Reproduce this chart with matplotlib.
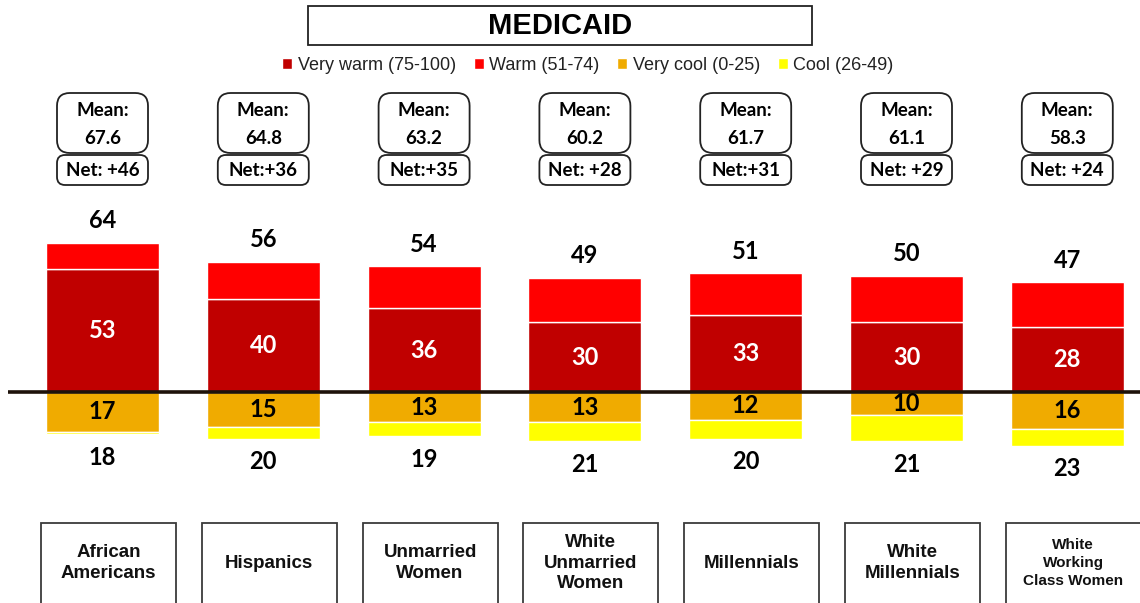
import numpy as np
import matplotlib
matplotlib.use("Agg")
import matplotlib.pyplot as plt
from matplotlib.patches import FancyBboxPatch, Rectangle

categories = ["African\nAmericans", "Hispanics", "Unmarried\nWomen", "White\nUnmarried\nWomen",
              "Millennials", "White\nMillennials", "White\nWorking\nClass Women"]
very_warm = [53, 40, 36, 30, 33, 30, 28]
warm = [11, 16, 18, 19, 18, 20, 19]
total_warm = [64, 56, 54, 49, 51, 50, 47]
very_cool = [17, 15, 13, 13, 12, 10, 16]
cool = [1, 5, 6, 8, 8, 11, 7]
total_cool = [18, 20, 19, 21, 20, 21, 23]
means = ["67.6", "64.8", "63.2", "60.2", "61.7", "61.1", "58.3"]
nets = ["Net: +46", "Net:+36", "Net:+35", "Net: +28", "Net:+31", "Net: +29", "Net: +24"]

C_VWARM = "#C00000"
C_WARM = "#FF0000"
C_VCOOL = "#F0AB00"
C_COOL = "#FFFF00"

NUMFONT = ["Lato", "DejaVu Sans"]
LBLFONT = ["Liberation Sans", "DejaVu Sans"]

W, H = 1140, 603
fig = plt.figure(figsize=(W / 100, H / 100), dpi=100)
ax = fig.add_axes([0, 0, 1, 1])

# pixel geometry of the original layout
x0_px, step_px = 102.5, 160.8
base_px, unit_px = 392, 2.33
ax.set_xlim(-x0_px / step_px, (W - x0_px) / step_px)
ax.set_ylim(-(H - base_px) / unit_px, base_px / unit_px)
ax.axis("off")

def py(p):
    # pixel row -> data y
    return (base_px - p) / unit_px

x = np.arange(len(categories))
bw = 113 / step_px

b1 = ax.bar(x, very_warm, width=bw, color=C_VWARM, edgecolor="white", linewidth=1, zorder=2)
b2 = ax.bar(x, warm, bottom=very_warm, width=bw, color=C_WARM, edgecolor="white", linewidth=1, zorder=2)
b3 = ax.bar(x, -np.array(very_cool), width=bw, color=C_VCOOL, edgecolor="white", linewidth=1, zorder=2)
b4 = ax.bar(x, -np.array(cool), bottom=-np.array(very_cool), width=bw, color=C_COOL,
            edgecolor="white", linewidth=1, zorder=2)

ax.plot([8 / step_px - x0_px / step_px, 7], [0, 0], color="#1E120A", lw=2.6, zorder=3,
        solid_capstyle="butt")

for i in x:
    ax.text(i, very_warm[i] / 2, str(very_warm[i]), ha="center", va="center", color="white",
            fontsize=17, fontweight="bold", family=NUMFONT, zorder=4)
    ax.text(i, total_warm[i] + 9.5, str(total_warm[i]), ha="center", va="center", color="black",
            fontsize=17, fontweight="bold", family=NUMFONT, zorder=4)
    ax.text(i, -very_cool[i] / 2, str(very_cool[i]), ha="center", va="center", color="black",
            fontsize=17, fontweight="bold", family=NUMFONT, zorder=4)
    ax.text(i, -total_cool[i] - 10, str(total_cool[i]), ha="center", va="center", color="black",
            fontsize=17, fontweight="bold", family=NUMFONT, zorder=4)

    # mean / net boxes
    aspect = step_px / unit_px
    bwid = 91 / step_px
    mb = FancyBboxPatch((i - bwid / 2, py(153)), bwid, py(93) - py(153),
                        boxstyle="round,pad=0,rounding_size=0.08", mutation_aspect=aspect,
                        fc="white", ec="#222222", lw=1.3, zorder=3)
    nb = FancyBboxPatch((i - bwid / 2, py(185)), bwid, py(155) - py(185),
                        boxstyle="round,pad=0,rounding_size=0.05", mutation_aspect=aspect,
                        fc="white", ec="#222222", lw=1.3, zorder=3)
    ax.add_patch(mb)
    ax.add_patch(nb)
    ax.text(i, py(111), "Mean:", ha="center", va="center", fontsize=13.5, fontweight="bold",
            family=NUMFONT, zorder=4)
    ax.text(i, py(138), means[i], ha="center", va="center", fontsize=13.5, fontweight="bold",
            family=NUMFONT, zorder=4)
    ax.text(i, py(170), nets[i], ha="center", va="center", fontsize=13.5, fontweight="bold",
            family=NUMFONT, zorder=4)

    # category boxes
    cx = i + 6 / step_px
    cw = 135 / step_px
    ax.add_patch(Rectangle((cx - cw / 2, py(620)), cw, py(523) - py(620), fc="white",
                           ec="#3A3A3A", lw=1.3, zorder=3, clip_on=False))
    small = "Class" in categories[i]
    ax.text(cx, py(563), categories[i], ha="center", va="center",
            fontsize=11 if small else 13.5, fontweight="bold", family=LBLFONT,
            linespacing=1.4 if small else 1.3, color="#111111", zorder=4)

# title
fig.patches.append(Rectangle((308 / W, 1 - 45 / H), 504 / W, 39 / H, transform=fig.transFigure,
                             fill=False, ec="#222222", lw=1.3))
fig.text(560 / W, 1 - 26 / H, "MEDICAID", ha="center", va="center", fontsize=21,
         fontweight="bold", family=LBLFONT)

ax.legend([b1, b2, b3, b4],
          ["Very warm (75-100)", "Warm (51-74)", "Very cool (0-25)", "Cool (26-49)"],
          loc="center", bbox_to_anchor=(588 / W, 1 - 65 / H), bbox_transform=fig.transFigure,
          ncol=4, frameon=False, handlelength=0.55, handleheight=0.55, handletextpad=0.3,
          columnspacing=1.0, prop={"family": LBLFONT, "size": 13}, labelcolor="#222222")

fig.savefig("out.png", dpi=100)
